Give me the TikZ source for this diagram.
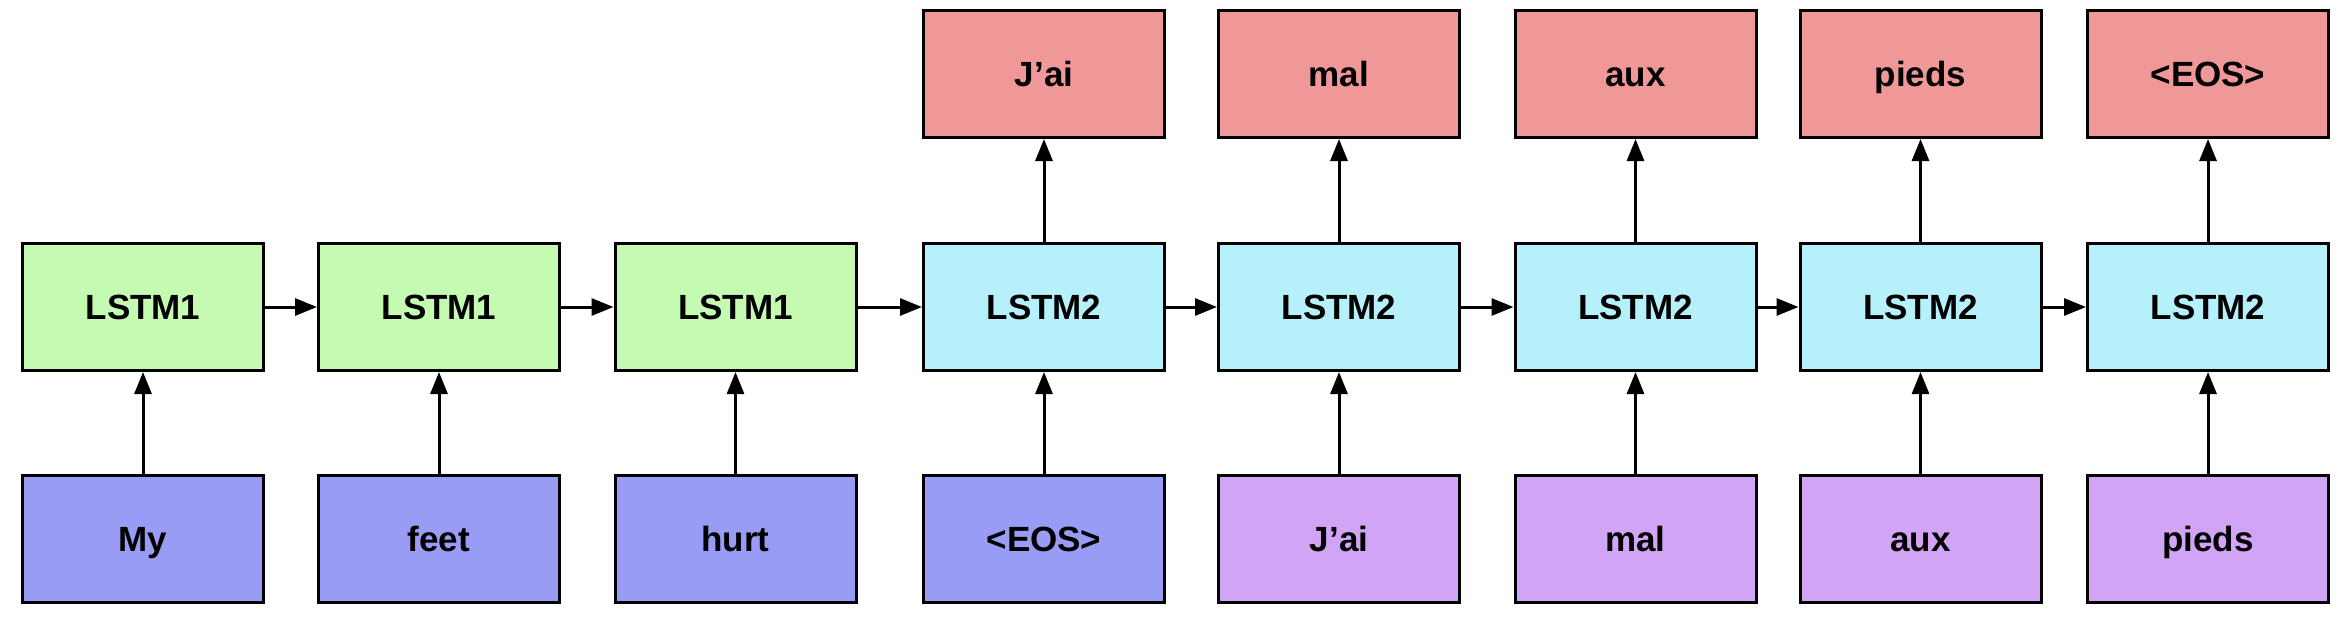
\documentclass[tikz,border=0pt]{standalone}
\usepackage{fontspec}
\setmainfont{Liberation Sans}
\usetikzlibrary{arrows.meta}
\definecolor{cgreen}{RGB}{197,250,178}
\definecolor{ccyan}{RGB}{182,240,251}
\definecolor{cblue}{RGB}{153,156,245}
\definecolor{cpurple}{RGB}{209,164,246}
\definecolor{cred}{RGB}{240,152,152}
\begin{document}
\begin{tikzpicture}[x=1pt,y=-1pt,
  box/.style={draw=black, line width=3pt, minimum width=241pt, minimum height=127pt,
    inner sep=0pt, text height=25pt, text depth=0pt,
    font=\fontsize{35}{40}\selectfont\bfseries},
  enc/.style={box, fill=cgreen},
  dec/.style={box, fill=ccyan},
  inA/.style={box, fill=cblue},
  inB/.style={box, fill=cpurple},
  outbox/.style={box, fill=cred},
  arr/.style={line width=3pt, -{Triangle[length=22pt,width=17pt]}}]
\useasboundingbox (0,0) rectangle (2342,622);
% middle row
\node[enc] (m1) at (143,307) {LSTM1};
\node[enc] (m2) at (439,307) {LSTM1};
\node[enc] (m3) at (735.5,307) {LSTM1};
\node[dec] (m4) at (1044,307) {LSTM2};
\node[dec] (m5) at (1339,307) {LSTM2};
\node[dec] (m6) at (1635.5,307) {LSTM2};
\node[dec] (m7) at (1920.5,307) {LSTM2};
\node[dec] (m8) at (2208,307) {LSTM2};
% bottom row
\node[inA] (b1) at (143,539) {My};
\node[inA] (b2) at (439,539) {feet};
\node[inA] (b3) at (735.5,539) {hurt};
\node[inA] (b4) at (1044,539) {<EOS>};
\node[inB] (b5) at (1339,539) {J’ai};
\node[inB] (b6) at (1635.5,539) {mal};
\node[inB] (b7) at (1920.5,539) {aux};
\node[inB] (b8) at (2208,539) {pieds};
% top row
\node[outbox] (t4) at (1044,74) {J’ai};
\node[outbox] (t5) at (1339,74) {mal};
\node[outbox] (t6) at (1635.5,74) {aux};
\node[outbox] (t7) at (1920.5,74) {pieds};
\node[outbox] (t8) at (2208,74) {<EOS>};
% connectors
\foreach \a/\b in {m1/m2,m2/m3,m3/m4,m4/m5,m5/m6,m6/m7,m7/m8}
  \draw[arr] (\a) -- (\b);
\foreach \i in {1,...,8}
  \draw[arr] (b\i) -- (m\i);
\foreach \i in {4,...,8}
  \draw[arr] (m\i) -- (t\i);
\end{tikzpicture}
\end{document}
